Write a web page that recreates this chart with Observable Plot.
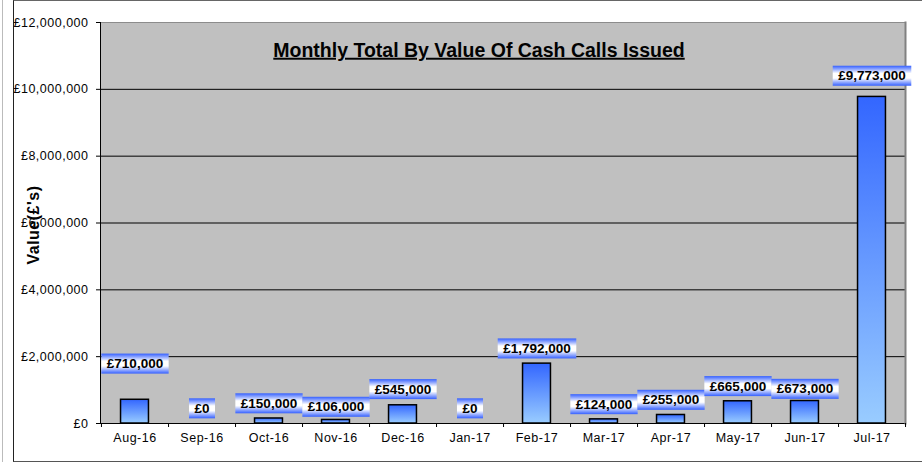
<!DOCTYPE html>
<html><head><meta charset="utf-8">
<script src="https://cdn.jsdelivr.net/npm/d3@7"></script>
<script src="https://cdn.jsdelivr.net/npm/@observablehq/plot@0.6"></script>
<style>
body{margin:0;background:#fff;}
#wrap{position:relative;width:922px;height:462px;overflow:hidden;}
#outer{position:absolute;left:13px;top:0;width:909px;height:462px;border-left:1px solid #222;border-top:1px solid #666;border-bottom:1px solid #555;box-sizing:border-box;}
#edge{position:absolute;left:2px;top:0;width:1px;height:462px;background:#bbb;}
#chart{position:absolute;left:0;top:0;}
</style></head><body>
<div id="wrap"><div id="edge"></div><div id="outer"></div><div id="chart"></div></div>
<script>
// ---- data ----
const months = ["Aug-16","Sep-16","Oct-16","Nov-16","Dec-16","Jan-17","Feb-17","Mar-17","Apr-17","May-17","Jun-17","Jul-17"];
const values = [710000,0,150000,106000,545000,0,1792000,124000,255000,665000,673000,9773000];
const yTicks = [0,2000000,4000000,6000000,8000000,10000000,12000000];
const titleText = "Monthly Total By Value Of Cash Calls Issued";
const yLabelText = "Value(£'s)";
// layout: how far (px) each data label sits above its bar top
const labelLift = [36,15,15,13,16,15,15,15,15,15,12,21];

const data = months.map((m, i) => ({month: m, value: values[i]}));
const money = d => "£" + d3.format(",")(d);
const font = "'Liberation Sans', Arial, Helvetica, sans-serif";
const W = 922, H = 462, mL = 100, mR = 17, mT = 22, mB = 39;
const step = (W - mL - mR) / months.length;
const barW = 28;
const LABEL_FILL = "#010101", TITLE_FILL = "#020202", YLAB_FILL = "#030303", TICK_FILL = "#040404";

const plot = Plot.plot({
  width: W, height: H,
  marginLeft: mL, marginRight: mR, marginTop: mT, marginBottom: mB,
  style: {fontFamily: font, background: "transparent", color: "#000"},
  x: {domain: months, padding: 0, axis: null},
  y: {domain: [0, 12000000], axis: null},
  marks: [
    Plot.frame({fill: "#c0c0c0", stroke: null}),
    Plot.ruleY(yTicks.slice(0, -1), {stroke: "#000", strokeWidth: 1}),
    Plot.frame({anchor: "top", stroke: "#8c8c8c"}),
    Plot.frame({anchor: "right", stroke: "#808080", strokeWidth: 2}),
    Plot.frame({anchor: "left", stroke: "#000"}),
    Plot.axisY({ticks: yTicks, tickSize: 4, tickPadding: 8, tickFormat: money, fontSize: 12.5, label: null, stroke: "#000", fill: TICK_FILL}),
    Plot.axisX({tickSize: 0, tickPadding: 10, fontSize: 12.5, label: null, fill: TICK_FILL}),
    Plot.axisX({tickSize: 4, tickFormat: () => "", dx: step / 2, label: null, color: "#000"}),
    Plot.axisX([months[0]], {tickSize: 4, tickFormat: () => "", dx: -step / 2, label: null, color: "#000"}),
    Plot.barY(data.filter(d => d.value > 0), {
      x: "month", y: "value", fill: "url(#barGrad)", stroke: "#000", strokeWidth: 1.5,
      insetLeft: (step - barW) / 2, insetRight: (step - barW) / 2
    }),
    ...data.map((d, i) => Plot.text([d], {
      x: "month", y: "value", text: r => money(r.value), dy: -labelLift[i],
      fontWeight: "bold", fontSize: 13.5, fill: LABEL_FILL
    })),
    Plot.text([titleText], {frameAnchor: "top", lineAnchor: "middle", dy: 28, dx: -24, fontSize: 19.5, fontWeight: "bold", fill: TITLE_FILL}),
    Plot.text([yLabelText], {frameAnchor: "left", dx: -67, dy: 2, rotate: -90, textAnchor: "middle", fontSize: 16, fontWeight: "bold", fill: YLAB_FILL})
  ]
});

document.getElementById("chart").appendChild(plot);
const svg = d3.select(plot);
const defs = svg.insert("defs", ":first-child");
const bg = defs.append("linearGradient").attr("id", "barGrad").attr("x1", 0).attr("y1", 0).attr("x2", 0).attr("y2", 1);
bg.append("stop").attr("offset", "0%").attr("stop-color", "#3366ff");
bg.append("stop").attr("offset", "100%").attr("stop-color", "#99ccff");
const lg = defs.append("linearGradient").attr("id", "lblGrad").attr("x1", 0).attr("y1", 0).attr("x2", 0).attr("y2", 1);
[[0, "#3560ff"], [0.38, "#ffffff"], [0.62, "#ffffff"], [1, "#3560ff"]].forEach(([o, c]) =>
  lg.append("stop").attr("offset", o).attr("stop-color", c));

function textsWithFill(fill) {
  return svg.selectAll("text").filter(function () {
    let n = this;
    while (n && n !== plot) {
      const f = n.getAttribute && n.getAttribute("fill");
      if (f) return f.toLowerCase() === fill;
      n = n.parentNode;
    }
    return false;
  });
}

textsWithFill(TITLE_FILL).style("text-decoration", "underline");
textsWithFill(YLAB_FILL).style("letter-spacing", "0.5px");
textsWithFill(TICK_FILL).style("letter-spacing", "0.5px");

textsWithFill(LABEL_FILL).each(function () {
  const node = this;
  const b = node.getBBox();
  const r = d3.select(node.parentNode).insert("rect", () => node)
    .attr("x", b.x - 5.5).attr("width", b.width + 11)
    .attr("y", b.y + b.height / 2 - 10).attr("height", 20)
    .attr("fill", "url(#lblGrad)");
  const t = node.getAttribute("transform");
  if (t) r.attr("transform", t);
});
</script>
</body></html>
